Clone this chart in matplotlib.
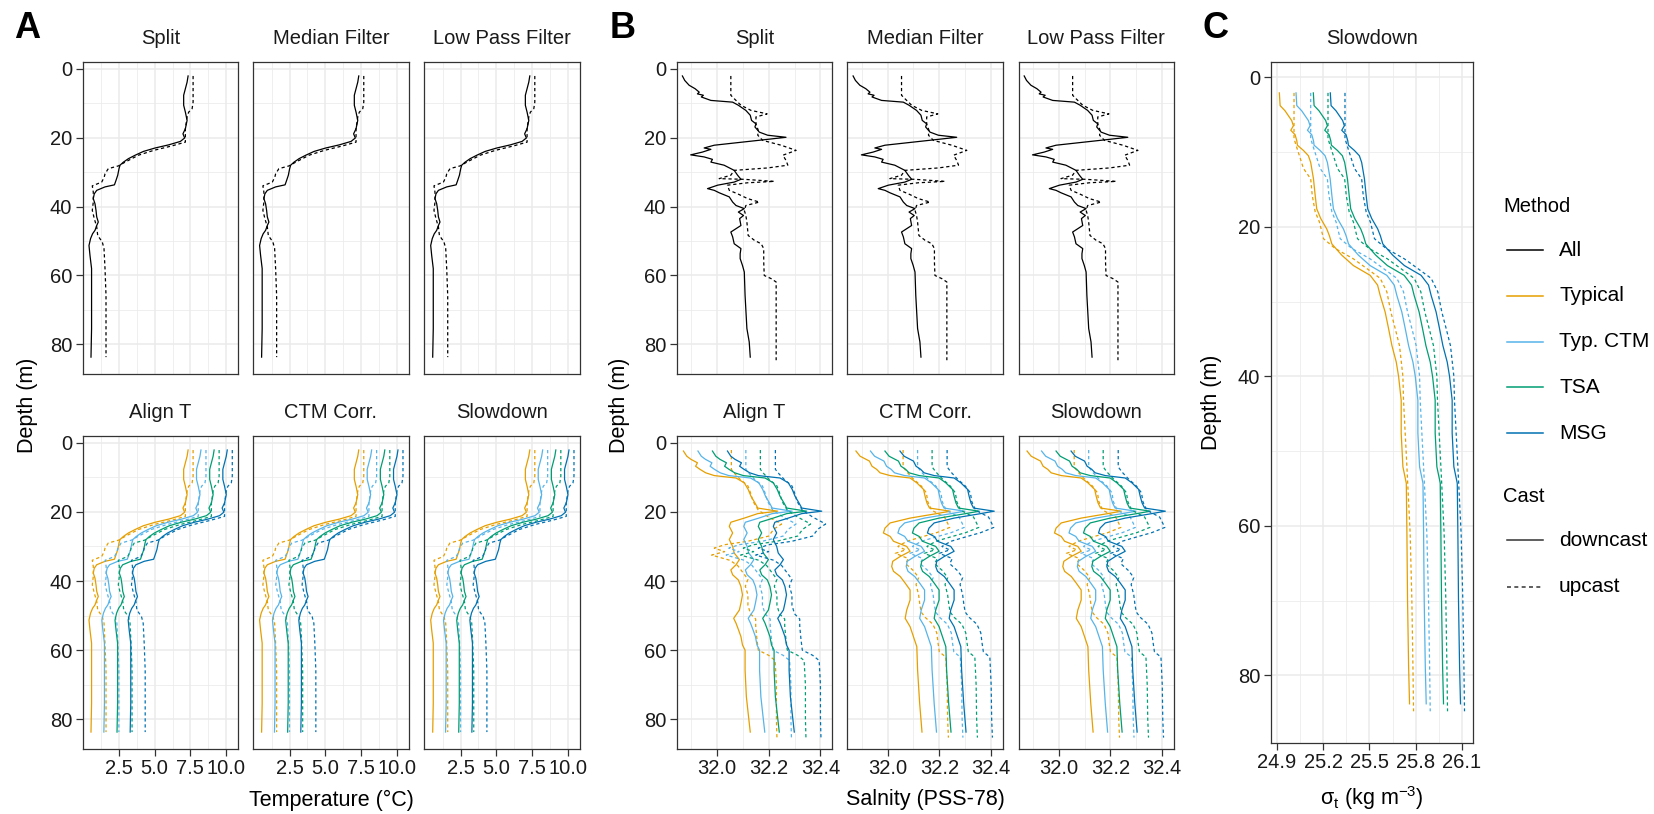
"""Recreate the CTD processing comparison figure (panels A, B, C)."""
import matplotlib
matplotlib.use("Agg")
import matplotlib.pyplot as plt
from matplotlib.lines import Line2D

W, H = 1654, 814

INK = "#1a1a1a"
BORDER = "#333333"
GRID = "#ebebeb"

plt.rcParams.update({
    "font.family": ["Liberation Sans", "DejaVu Sans"],
    "mathtext.fontset": "custom",
    "mathtext.rm": "Liberation Sans",
    "mathtext.it": "Liberation Sans:italic",
})

# ---- data ---------------------------------------------------------------
METHODS = ["All", "Typical", "Typ. CTM", "TSA", "MSG"]
METHOD_COLORS = ["#000000", "#E69F00", "#56B4E9", "#009E73", "#0072B2"]
CASTS = ["downcast", "upcast"]

TOP_FACETS = ["Split", "Median Filter", "Low Pass Filter"]
BOTTOM_FACETS = ["Align T", "CTM Corr.", "Slowdown"]

# display offsets of the four methods (Typical, Typ. CTM, TSA, MSG)
T_OFFSET = [0.0, 0.90, 1.82, 2.74]
S_OFFSET = [0.0, 0.056, 0.112, 0.170]
D_OFFSET = [0.0, 0.108, 0.220, 0.330]

# temperature (deg C)
T_DOWN_Z = [2.1, 3.9, 5.8, 7.7, 10.6, 12.6, 15.0, 17.4, 18.9, 20.1, 21.1, 22.1, 23.0,
            24.0, 25.1, 26.1, 27.1, 28.0, 29.0, 30.9, 32.4, 33.7, 34.3, 35.3, 36.3,
            37.7, 39.2, 41.1, 43.0, 44.5, 45.5, 46.9, 47.9, 49.3, 51.3, 54.2, 58.0,
            65.8, 75.4, 83.7]
T_DOWN = [7.34, 7.27, 7.15, 7.03, 7.03, 7.15, 7.27, 7.15, 6.98, 7.10, 6.80, 5.98, 5.04,
          4.22, 3.64, 3.17, 2.82, 2.58, 2.51, 2.42, 2.30, 2.19, 1.53, 0.95, 0.78,
          0.71, 0.83, 0.90, 0.95, 1.06, 0.95, 0.83, 0.66, 0.52, 0.41, 0.48, 0.59,
          0.59, 0.59, 0.55]
T_UP_Z = [2.1, 5.8, 9.7, 11.6, 12.6, 14.0, 17.4, 21.3, 22.4, 23.7, 25.1, 27.1, 28.2,
          29.0, 30.5, 31.4, 32.9, 34.0, 35.8, 38.7, 41.1, 43.5, 45.9, 48.4, 50.3,
          52.2, 58.0, 65.8, 75.4, 83.7]
T_UP = [7.69, 7.69, 7.69, 7.62, 7.38, 7.27, 7.15, 7.15, 6.21, 4.93, 3.87, 2.94, 2.47,
        1.76, 1.53, 1.48, 1.30, 0.64, 0.71, 0.71, 0.64, 0.78, 0.95, 1.02, 1.34,
        1.46, 1.53, 1.60, 1.60, 1.60]

# salinity, top row (Split / Median Filter / Low Pass Filter)
S_DOWN_Z = [2.1, 3.4, 4.8, 5.8, 6.8, 7.3, 7.7, 8.2, 9.2, 9.7, 10.6, 12.1, 13.5, 15.0,
            16.0, 16.9, 18.4, 19.3, 19.9, 20.5, 21.3, 22.2, 23.0, 23.4, 24.2, 25.0,
            25.6, 26.3, 27.1, 28.0, 29.5, 30.9, 32.1, 32.9, 33.8, 34.8, 35.3, 36.0,
            37.2, 38.7, 39.7, 40.6, 41.6, 42.6, 43.5, 45.5, 47.4, 48.8, 50.8, 52.2,
            53.7, 55.1, 57.1, 59.0, 65.8, 75.4, 79.3, 83.7]
S_DOWN = [31.867, 31.876, 31.893, 31.916, 31.932, 31.925, 31.948, 31.940, 31.977,
          32.061, 32.083, 32.112, 32.129, 32.134, 32.151, 32.147, 32.164, 32.196,
          32.267, 32.196, 32.099, 31.990, 31.951, 31.977, 31.944, 31.899, 31.951,
          31.983, 31.977, 32.028, 32.067, 32.080, 32.093, 32.067, 32.003, 31.964,
          31.990, 32.009, 32.048, 32.061, 32.074, 32.106, 32.083, 32.103, 32.088,
          32.093, 32.054, 32.061, 32.067, 32.093, 32.090, 32.090, 32.099, 32.106,
          32.109, 32.116, 32.125, 32.129]
S_UP_Z = [2.1, 7.7, 8.7, 10.6, 12.1, 13.1, 14.0, 16.0, 17.9, 19.3, 20.8, 22.2, 23.7,
          25.1, 26.6, 28.0, 28.8, 29.5, 30.9, 31.9, 32.1, 32.7, 33.1, 33.8, 35.3,
          36.3, 37.7, 38.7, 39.7, 41.1, 42.6, 44.5, 48.4, 49.8, 50.8, 52.2, 56.1,
          60.0, 60.9, 61.9, 65.8, 75.4, 84.6]
S_UP = [32.054, 32.054, 32.067, 32.093, 32.132, 32.194, 32.151, 32.151, 32.160,
        32.158, 32.177, 32.248, 32.306, 32.255, 32.267, 32.274, 32.196, 32.067,
        32.054, 32.009, 32.106, 32.222, 32.119, 32.041, 32.048, 32.080, 32.119,
        32.164, 32.112, 32.106, 32.112, 32.116, 32.121, 32.145, 32.171, 32.181,
        32.181, 32.183, 32.209, 32.229, 32.229, 32.229, 32.229]

# salinity, Align T
S_ALIGN_DOWN_Z = [2.4, 3.9, 4.8, 5.8, 6.8, 7.7, 8.7, 9.5, 10.2, 11.6, 13.5, 15.5, 17.4,
                  18.9, 19.8, 20.5, 21.8, 23.0, 24.2, 26.1, 28.0, 30.0, 31.9, 33.8,
                  35.3, 36.8, 38.2, 39.7, 41.6, 44.0, 46.4, 48.4, 50.8, 52.2, 54.2,
                  56.1, 58.5, 60.0, 65.8, 73.5, 78.3, 83.7]
S_ALIGN_DOWN = [31.871, 31.884, 31.900, 31.925, 31.918, 31.935, 31.957, 31.990, 32.074,
                32.106, 32.121, 32.132, 32.147, 32.158, 32.235, 32.158, 32.106, 32.054,
                32.048, 32.061, 32.048, 32.061, 32.067, 32.087, 32.074, 32.054, 32.061,
                32.083, 32.093, 32.099, 32.093, 32.087, 32.065, 32.074, 32.084, 32.093,
                32.099, 32.109, 32.109, 32.114, 32.121, 32.129]
S_ALIGN_UP_Z = [2.1, 7.7, 9.0, 10.6, 12.5, 14.5, 17.0, 19.5, 21.5, 23.5, 25.0, 27.0,
                28.5, 29.5, 30.5, 31.5, 32.5, 34.0, 35.5, 37.5, 39.5, 41.5, 44.0, 47.0,
                49.5, 51.0, 53.0, 57.0, 60.0, 61.5, 63.0, 70.0, 80.0, 85.3]
S_ALIGN_UP = [32.056, 32.056, 32.070, 32.090, 32.120, 32.130, 32.140, 32.160, 32.200,
              32.250, 32.220, 32.200, 32.120, 32.030, 31.990, 32.030, 31.980, 32.050,
              32.080, 32.100, 32.120, 32.110, 32.120, 32.120, 32.130, 32.150, 32.150,
              32.155, 32.160, 32.200, 32.225, 32.230, 32.230, 32.232]

# salinity, CTM Corr. and Slowdown
S_CTM_DOWN_Z = [2.4, 3.9, 5.3, 6.8, 7.7, 8.7, 9.5, 10.2, 11.6, 13.5, 15.5, 17.4, 18.9,
                19.8, 20.5, 21.8, 23.2, 24.7, 26.1, 27.1, 28.5, 30.0, 31.4, 32.9, 34.3,
                35.8, 37.2, 38.7, 40.6, 42.6, 45.5, 48.4, 50.8, 53.2, 56.1, 59.0, 65.8,
                75.4, 83.7]
S_CTM_DOWN = [31.878, 31.894, 31.930, 31.940, 31.958, 31.971, 32.010, 32.087, 32.113,
              32.139, 32.145, 32.152, 32.162, 32.242, 32.190, 32.087, 32.010, 31.990,
              31.984, 32.010, 32.023, 32.074, 32.087, 32.049, 32.020, 32.016, 32.023,
              32.049, 32.068, 32.087, 32.087, 32.074, 32.068, 32.087, 32.100, 32.113,
              32.116, 32.124, 32.133]
S_CTM_UP_Z = [2.1, 7.0, 8.5, 10.5, 12.5, 14.5, 17.0, 19.5, 21.5, 23.0, 24.5, 26.0, 27.5,
              28.5, 30.0, 31.0, 32.0, 33.5, 35.0, 37.0, 39.0, 41.0, 44.0, 47.0, 49.0,
              50.5, 52.5, 55.0, 58.0, 60.5, 62.0, 70.0, 80.0, 85.3]
S_CTM_UP = [32.060, 32.060, 32.075, 32.100, 32.130, 32.150, 32.155, 32.170, 32.220,
            32.230, 32.240, 32.190, 32.120, 32.075, 32.040, 32.070, 32.030, 32.080,
            32.070, 32.100, 32.120, 32.110, 32.120, 32.125, 32.130, 32.145, 32.175,
            32.190, 32.195, 32.200, 32.225, 32.230, 32.232, 32.235]

# sigma-t (kg m-3), Slowdown
D_DOWN_Z = [2.1, 3.8, 4.5, 5.8, 6.5, 7.1, 7.7, 8.5, 9.1, 9.8, 10.5, 11.4, 13.6, 15.8,
            17.6, 18.9, 20.3, 21.2, 22.3, 23.8, 25.2, 26.5, 27.8, 29.2, 31.4, 33.6,
            35.9, 38.1, 40.0, 43.2, 47.6, 52.1, 54.3, 61.0, 69.9, 78.8, 83.8]
D_DOWN = [24.917, 24.922, 24.954, 24.997, 25.008, 24.991, 25.019, 25.030, 25.034,
          25.073, 25.105, 25.120, 25.138, 25.149, 25.159, 25.185, 25.224, 25.241,
          25.257, 25.321, 25.397, 25.505, 25.553, 25.570, 25.602, 25.624, 25.646,
          25.674, 25.689, 25.706, 25.706, 25.717, 25.739, 25.743, 25.747, 25.754,
          25.760]
D_UP_Z = [2.1, 8.2, 9.1, 10.5, 12.2, 13.6, 15.8, 18.0, 19.4, 21.6, 22.9, 24.3, 25.6,
          26.9, 28.7, 31.4, 33.6, 35.9, 40.0, 43.2, 52.1, 61.0, 69.9, 78.8, 84.8]
D_UP = [25.012, 25.012, 25.025, 25.047, 25.073, 25.120, 25.130, 25.149, 25.177,
        25.203, 25.278, 25.397, 25.484, 25.570, 25.613, 25.639, 25.667, 25.695,
        25.717, 25.721, 25.743, 25.764, 25.775, 25.782, 25.786]

# ---- layout (pixel boxes) -----------------------------------------------
A_COLS = [(82.7, 238.0), (253.3, 408.7), (424.4, 579.7)]
B_COLS = [(676.7, 832.1), (847.4, 1002.8), (1018.5, 1173.9)]
ROWS = [(62, 374), (436, 749)]
C_BOX = (1270.7, 61.7, 1472.7, 742.7)

DOTTED = (0, (2.6, 2.2))
LW = 0.9
TICK_SIZE = 14.5


def box(x0, y0, x1, y1):
    return [x0 / W, 1 - y1 / H, (x1 - x0) / W, (y1 - y0) / H]


def ftext(x, y, s, **kw):
    kw.setdefault("ha", "center")
    kw.setdefault("va", "center")
    return fig.text(x / W, 1 - y / H, s, **kw)


def style(ax, xlim, ylim, xmaj, xmin, xlab, ymaj, ymin, show_x, show_y):
    ax.set_xlim(*xlim)
    ax.set_ylim(*ylim)
    ax.set_xticks(xmaj)
    ax.set_xticklabels(xlab)
    ax.set_xticks(xmin, minor=True)
    ax.set_yticks(ymaj)
    ax.set_yticks(ymin, minor=True)
    ax.grid(which="major", color=GRID, lw=1.1)
    ax.grid(which="minor", color=GRID, lw=0.55)
    ax.set_axisbelow(True)
    for sp in ax.spines.values():
        sp.set_color(BORDER)
        sp.set_linewidth(0.9)
    ax.tick_params(which="minor", length=0)
    ax.tick_params(which="major", length=5, width=0.9, color=BORDER,
                   labelsize=TICK_SIZE, labelcolor=INK, pad=2.5)
    if not show_x:
        ax.tick_params(axis="x", which="major", length=0, labelbottom=False)
    if not show_y:
        ax.tick_params(axis="y", which="major", length=0, labelleft=False)


def draw_profiles(ax, down_z, down, up_z, up, offsets, bottom):
    if not bottom:
        ax.plot(down, down_z, color=METHOD_COLORS[0], lw=LW)
        ax.plot(up, up_z, color=METHOD_COLORS[0], lw=LW, ls=DOTTED)
        return
    for off, col in zip(offsets, METHOD_COLORS[1:]):
        ax.plot([v + off for v in up], up_z, color=col, lw=LW, ls=DOTTED)
        ax.plot([v + off for v in down], down_z, color=col, lw=LW)


fig = plt.figure(figsize=(W / 100, H / 100), dpi=100)

YMAJ = [0, 20, 40, 60, 80]
YMIN = [10, 30, 50, 70]
YLIM = (88.6, -1.95)

# panel A: temperature
for r, (y0, y1) in enumerate(ROWS):
    names = TOP_FACETS if r == 0 else BOTTOM_FACETS
    for c, (x0, x1) in enumerate(A_COLS):
        ax = fig.add_axes(box(x0, y0, x1, y1))
        draw_profiles(ax, T_DOWN_Z, T_DOWN, T_UP_Z, T_UP, T_OFFSET, r == 1)
        style(ax, (-0.03, 10.83), YLIM, [2.5, 5.0, 7.5, 10.0], [1.25, 3.75, 6.25, 8.75],
              ["2.5", "5.0", "7.5", "10.0"], YMAJ, YMIN, r == 1, c == 0)
        ftext((x0 + x1) / 2, y0 - 23, names[c], fontsize=14.5, color=INK)

# panel B: salinity
for r, (y0, y1) in enumerate(ROWS):
    names = TOP_FACETS if r == 0 else BOTTOM_FACETS
    for c, (x0, x1) in enumerate(B_COLS):
        ax = fig.add_axes(box(x0, y0, x1, y1))
        if r == 0:
            prof = (S_DOWN_Z, S_DOWN, S_UP_Z, S_UP)
        elif c == 0:
            prof = (S_ALIGN_DOWN_Z, S_ALIGN_DOWN, S_ALIGN_UP_Z, S_ALIGN_UP)
        else:
            prof = (S_CTM_DOWN_Z, S_CTM_DOWN, S_CTM_UP_Z, S_CTM_UP)
        draw_profiles(ax, *prof, S_OFFSET, r == 1)
        style(ax, (31.845, 32.445), YLIM, [32.0, 32.2, 32.4], [31.9, 32.1, 32.3],
              ["32.0", "32.2", "32.4"], YMAJ, YMIN, r == 1, c == 0)
        ftext((x0 + x1) / 2, y0 - 23, names[c], fontsize=14.5, color=INK)

# panel C: density
ax = fig.add_axes(box(*C_BOX))
draw_profiles(ax, D_DOWN_Z, D_DOWN, D_UP_Z, D_UP, D_OFFSET, True)
style(ax, (24.861, 26.169), (89.0, -2.07), [24.9, 25.2, 25.5, 25.8, 26.1],
      [25.05, 25.35, 25.65, 25.95], ["24.9", "25.2", "25.5", "25.8", "26.1"],
      YMAJ, YMIN, True, True)
ftext((C_BOX[0] + C_BOX[2]) / 2, 39, "Slowdown", fontsize=14.5, color=INK)

# axis titles
ftext(27, 405, "Depth (m)", rotation=90, fontsize=15.5)
ftext(620, 405, "Depth (m)", rotation=90, fontsize=15.5)
ftext(1212, 402, "Depth (m)", rotation=90, fontsize=15.5)
ftext(331, 800, "Temperature (°C)", fontsize=15.5)
ftext(925, 800, "Salnity (PSS-78)", fontsize=15.5)
ftext(1372, 798, r"σ$_\mathregular{t}$ (kg m$^{\mathregular{-3}}$)", fontsize=15.5)

# panel letters
for x, lab in [(14, "A"), (610, "B"), (1203, "C")]:
    ftext(x, 29, lab, ha="left", fontsize=26, fontweight="bold")

# legend
ftext(1503, 207, "Method", ha="left", fontsize=14.5)
for i, (name, col) in enumerate(zip(METHODS, METHOD_COLORS)):
    y = 1 - (250 + i * 45.8) / H
    fig.add_artist(Line2D([1507 / W, 1543 / W], [y, y], color=col, lw=1.1))
    ftext(1559, 250 + i * 45.8, name, ha="left", fontsize=15)
ftext(1503, 497, "Cast", ha="left", fontsize=14.5)
for i, (name, ls) in enumerate(zip(CASTS, ["-", DOTTED])):
    y = 1 - (540 + i * 46.7) / H
    fig.add_artist(Line2D([1507 / W, 1543 / W], [y, y], color=BORDER, lw=1.1, ls=ls))
    ftext(1559, 540 + i * 46.7, name, ha="left", fontsize=15)

fig.savefig("out.png", dpi=100, facecolor="white")
